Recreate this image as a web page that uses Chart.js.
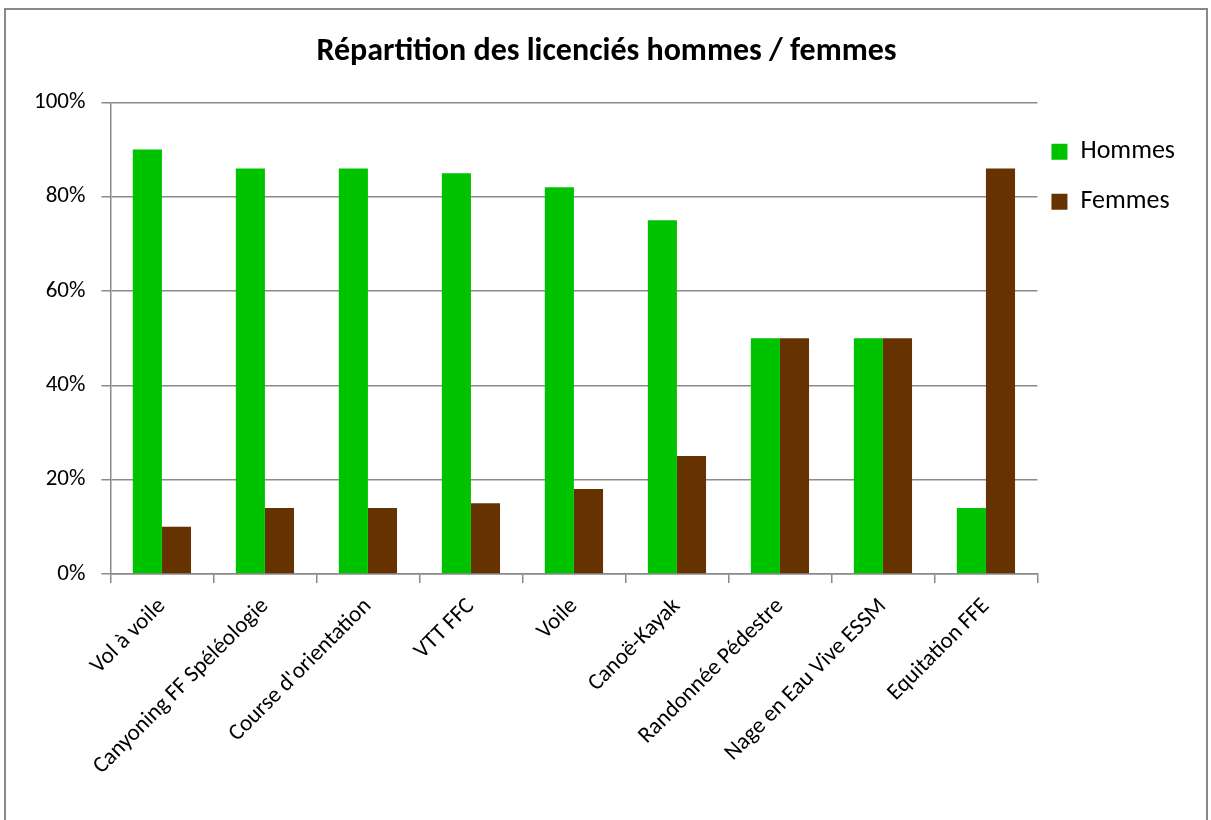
<!DOCTYPE html>
<html>
<head>
<meta charset="utf-8">
<script src="https://cdn.jsdelivr.net/npm/chart.js@4/dist/chart.umd.min.js"></script>
<style>
    html, body { margin: 0; padding: 0; background: #fff; overflow: hidden; }
    #cadre { position: absolute; left: 4px; top: 8px; width: 1204px; height: 840px; border: 2px solid #898989; box-sizing: border-box; }
    #zone { position: absolute; left: 0; top: 0; width: 1211px; height: 820px; }
</style>
</head>
<body>
<div id="cadre"></div>
<div id="zone"><canvas id="graphique"></canvas></div>
<script>
// Données du graphique
const categories = ['Vol à voile', 'Canyoning FF Spéléologie', "Course d'orientation", 'VTT FFC', 'Voile',
    'Canoë-Kayak', 'Randonnée Pédestre', 'Nage en Eau Vive ESSM', 'Equitation FFE'];
const hommes = [90, 86, 86, 85, 82, 75, 50, 50, 14];
const femmes = [10, 14, 14, 15, 18, 25, 50, 50, 86];
const yMin = 0, yMax = 100, yPas = 20;

const police = 'Carlito, Lato, sans-serif';
const gris = '#8a8a8a';

// rapproche un peu la légende du graphique
const decalageLegende = {
    id: 'decalageLegende',
    afterLayout(chart) {
        if (chart.legend) {
            chart.legend.left -= 10;
            chart.legend.right -= 10;
        }
    }
};

const ctx = document.getElementById('graphique').getContext('2d');

const config = {
    type: 'bar',
    data: {
        labels: categories,
        datasets: [
            { label: 'Hommes', data: hommes, backgroundColor: '#00c300', categoryPercentage: 0.565, barPercentage: 1 },
            { label: 'Femmes', data: femmes, backgroundColor: '#663300', categoryPercentage: 0.565, barPercentage: 1 }
        ]
    },
    options: {
        responsive: true,
        maintainAspectRatio: false,
        animation: false,
        layout: { padding: { left: 18, right: 16, top: 0, bottom: 30 } },
        plugins: {
            title: {
                display: true,
                text: 'Répartition des licenciés hommes / femmes',
                color: '#000',
                font: { family: police, size: 32, weight: 'bold' },
                padding: { top: 33, bottom: 31 }
            },
            legend: {
                position: 'right',
                align: 'start',
                // titre vide pour descendre la légende
                title: { display: true, text: ' ', font: { size: 4 }, padding: 55 },
                labels: {
                    color: '#000',
                    boxWidth: 16,
                    boxHeight: 16,
                    padding: 24,
                    font: { family: police, size: 26 }
                }
            },
            tooltip: { enabled: false }
        },
        scales: {
            y: {
                min: yMin,
                max: yMax,
                ticks: {
                    stepSize: yPas,
                    padding: 16,
                    color: '#000',
                    font: { family: police, size: 23 },
                    callback: v => v + '%'
                },
                grid: { color: gris, lineWidth: 1.5, tickLength: 9 },
                border: { color: gris, width: 1.5 }
            },
            x: {
                ticks: {
                    minRotation: 45,
                    maxRotation: 45,
                    padding: 10,
                    color: '#000',
                    font: { family: police, size: 23 }
                },
                grid: { drawOnChartArea: false, color: gris, lineWidth: 1.5, tickLength: 9 },
                border: { color: gris, width: 1.5 }
            }
        }
    },
    plugins: [decalageLegende]
};

const monGraphique = new Chart(ctx, config);
</script>
</body>
</html>
